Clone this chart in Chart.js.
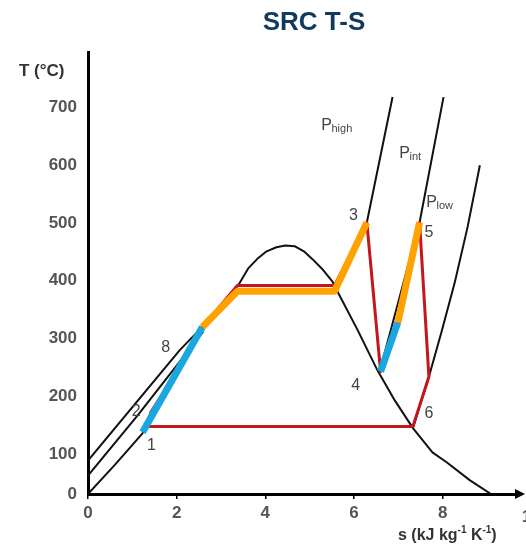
<!DOCTYPE html>
<html>
<head>
<meta charset="utf-8">
<title>SRC T-S</title>
<script src="https://cdn.jsdelivr.net/npm/chart.js@4.4.1/dist/chart.umd.min.js"></script>
<style>
  html, body { margin: 0; padding: 0; background: #fff; }
  #srcChart { display: block; }
</style>
</head>
<body>
<canvas id="srcChart" width="526" height="548"></canvas>
<script>
// Axis ranges (the picture's "0" label sits at ~31 on its own 100-step scale)
const Y_MIN = 31;
const Y_MAX = 796;
const X_MAX = 9.7;
const yTickValues = [31, 100, 200, 300, 400, 500, 600, 700];
const yTickLabels = ["0", "100", "200", "300", "400", "500", "600", "700"];

// Saturation dome (s in kJ/kg K, T in °C)
const domeS = [0, 0.6, 1.23, 1.91, 2.58, 3.01, 3.42, 3.62, 3.82, 4.03, 4.25, 4.45, 4.66, 4.87, 5.07, 5.3, 5.52, 5.61, 6.08, 6.53, 6.92, 7.33, 7.77, 8.09, 8.61, 9.09];
const domeT = [31, 81, 136, 225, 318, 358, 396, 422, 438, 451, 458, 461, 460, 451, 437, 419, 398, 384, 315, 245, 193, 145, 103, 86, 55, 31];

// Compressed liquid isobars
const midLiqS = [0, 1.12, 2.6];
const midLiqT = [63, 167, 312];
const topLiqS = [0, 2.07, 2.6];
const topLiqT = [89, 280, 322];

// Superheated isobars
const pHighS = [5.61, 6.29, 6.87];
const pHighT = [384, 501, 718];
const pIntS = [6.58, 7.48, 8.02];
const pIntT = [243, 501, 718];
const pLowS = [7.33, 7.69, 7.98, 8.27, 8.56, 8.84];
const pLowT = [145, 234, 313, 396, 492, 600];

// Cycle (red): 1 -> 2 -> 8 -> boil -> 3 -> 4 -> 5 -> 6 -> 1
const cycleS = [1.34, 1.42, 2.19, 2.58, 3.37, 5.56, 6.29, 6.6, 6.99, 7.48, 7.69, 7.33, 1.34];
const cycleT = [148, 173, 265, 320, 392, 392, 501, 243, 328, 501, 234, 148, 148];

// Heat input, liquid part (blue) and boiling/superheat part (orange)
const heatBlueS = [1.23, 2.58];
const heatBlueT = [138, 320];
const reheatBlueS = [6.6, 6.99];
const reheatBlueT = [243, 328];
const heatOrangeS = [2.58, 3.37, 5.56, 6.29];
const heatOrangeT = [320, 382, 382, 501];
const reheatOrangeS = [6.99, 7.48];
const reheatOrangeT = [328, 501];

// State point labels
const stateNames = ["1", "2", "8", "3", "4", "5", "6"];
const stateS = [1.43, 1.09, 1.75, 5.99, 6.04, 7.69, 7.69];
const stateT = [114, 173, 285, 513, 218, 484, 171];

// Isobar labels
const isoNames = ["high", "int", "low"];
const isoS = [5.38, 7.14, 7.75];
const isoT = [669, 621, 536];

const FONT = "'Liberation Sans', Arial, sans-serif";
const pts = (s, t) => s.map((v, i) => ({ x: v, y: t[i] }));

function line(data, color, width, order) {
  return {
    data: data,
    showLine: true,
    borderColor: color,
    borderWidth: width,
    borderJoinStyle: "round",
    pointRadius: 0,
    fill: false,
    tension: 0,
    order: order,
  };
}

// Text, arrow and titles
const decorPlugin = {
  id: "decor",
  afterDraw(chart) {
    const { ctx, chartArea, scales } = chart;
    const xs = scales.x;
    const ys = scales.y;
    ctx.save();

    // arrow at the end of the s axis
    ctx.fillStyle = "#000";
    ctx.beginPath();
    ctx.moveTo(chartArea.right - 3, chartArea.bottom - 5);
    ctx.lineTo(chartArea.right + 7, chartArea.bottom);
    ctx.lineTo(chartArea.right - 3, chartArea.bottom + 5);
    ctx.closePath();
    ctx.fill();

    // the "10" tick label that runs off the edge
    ctx.font = "bold 17px " + FONT;
    ctx.fillStyle = "#555";
    ctx.textAlign = "center";
    ctx.textBaseline = "middle";
    ctx.fillText("10", xs.getPixelForValue(10), 517);

    // title
    ctx.font = "bold 26px " + FONT;
    ctx.fillStyle = "#113a5e";
    ctx.fillText("SRC T-S", 314, 23);

    // axis titles
    ctx.fillStyle = "#333";
    ctx.textAlign = "left";
    ctx.font = "bold 17px " + FONT;
    ctx.fillText("T (°C)", 19, 71);

    let x = 398;
    const yb = 536;
    const parts = [["s (kJ kg", false], ["-1", true], [" K", false], ["-1", true], [")", false]];
    parts.forEach(([txt, sup]) => {
      ctx.font = (sup ? "bold 10px " : "bold 16px ") + FONT;
      ctx.fillText(txt, x, sup ? yb - 6 : yb);
      x += ctx.measureText(txt).width;
    });

    // state numbers
    ctx.font = "16px " + FONT;
    ctx.fillStyle = "#444";
    ctx.textAlign = "center";
    stateNames.forEach((name, i) => {
      ctx.fillText(name, xs.getPixelForValue(stateS[i]), ys.getPixelForValue(stateT[i]));
    });

    // isobar names P_high, P_int, P_low
    isoNames.forEach((name, i) => {
      const px = xs.getPixelForValue(isoS[i]);
      const py = ys.getPixelForValue(isoT[i]);
      ctx.textAlign = "center";
      ctx.font = "16px " + FONT;
      ctx.fillText("P", px, py);
      ctx.textAlign = "left";
      ctx.font = "11px " + FONT;
      ctx.fillText(name, px + 5, py + 4);
    });

    ctx.restore();
  },
};

const ctx = document.getElementById("srcChart").getContext("2d");

new Chart(ctx, {
  type: "scatter",
  data: {
    datasets: [
      line(pts(domeS, domeT), "#111", 2, 4),
      line(pts(midLiqS, midLiqT), "#111", 2, 4),
      line(pts(topLiqS, topLiqT), "#111", 2, 4),
      line(pts(pHighS, pHighT), "#111", 2, 4),
      line(pts(pIntS, pIntT), "#111", 2, 4),
      line(pts(pLowS, pLowT), "#111", 2, 4),
      line(pts(cycleS, cycleT), "#c4161c", 3, 3),
      line(pts(heatBlueS, heatBlueT), "#1aa7e0", 7, 2),
      line(pts(reheatBlueS, reheatBlueT), "#1aa7e0", 7, 2),
      line(pts(heatOrangeS, heatOrangeT), "#ffa200", 7, 1),
      line(pts(reheatOrangeS, reheatOrangeT), "#ffa200", 7, 1),
    ],
  },
  options: {
    responsive: false,
    animation: false,
    layout: { padding: { top: 52, right: 8, bottom: 0, left: 0 } },
    scales: {
      x: {
        type: "linear",
        min: 0,
        max: X_MAX,
        grid: { display: true, drawOnChartArea: false, drawTicks: true, tickLength: 5, color: "#000", lineWidth: 1.5 },
        border: { display: true, color: "#000", width: 3 },
        ticks: {
          stepSize: 2,
          includeBounds: false,
          padding: 4,
          color: "#555",
          font: { family: FONT, size: 17, weight: "bold" },
        },
        afterFit: (scale) => { scale.height = 54; },
      },
      y: {
        type: "linear",
        min: Y_MIN,
        max: Y_MAX,
        grid: { display: false, drawTicks: false },
        border: { display: true, color: "#000", width: 3 },
        ticks: {
          padding: 11,
          color: "#555",
          font: { family: FONT, size: 17, weight: "bold" },
          callback: (value, index) => yTickLabels[index],
        },
        afterBuildTicks: (scale) => {
          scale.ticks = yTickValues.map((v) => ({ value: v }));
        },
        afterFit: (scale) => { scale.width = 88; },
      },
    },
    plugins: {
      legend: { display: false },
      tooltip: { enabled: false },
      title: { display: false },
    },
  },
  plugins: [decorPlugin],
});
</script>
</body>
</html>
